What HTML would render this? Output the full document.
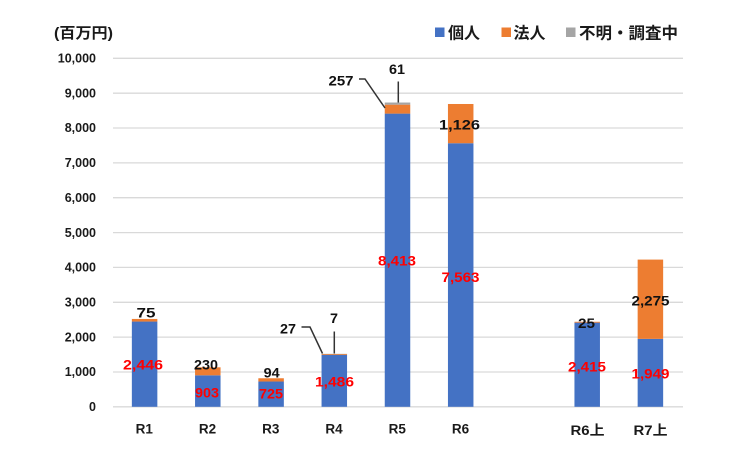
<!DOCTYPE html>
<html>
<head>
<meta charset="utf-8">
<style>
html,body{margin:0;padding:0;background:#fff;}
svg{display:block;}
text{font-family:"Liberation Sans","Noto Sans CJK JP",sans-serif;font-weight:bold;}
</style>
</head>
<body>
<svg width="740" height="450" viewBox="0 0 740 450" xmlns="http://www.w3.org/2000/svg">
<rect width="740" height="450" fill="#fff"/>
<g stroke="#d9d9d9" stroke-width="1.3">
<line x1="113" y1="58.3" x2="683" y2="58.3"/>
<line x1="113" y1="93.2" x2="683" y2="93.2"/>
<line x1="113" y1="128.0" x2="683" y2="128.0"/>
<line x1="113" y1="162.9" x2="683" y2="162.9"/>
<line x1="113" y1="197.7" x2="683" y2="197.7"/>
<line x1="113" y1="232.6" x2="683" y2="232.6"/>
<line x1="113" y1="267.4" x2="683" y2="267.4"/>
<line x1="113" y1="302.3" x2="683" y2="302.3"/>
<line x1="113" y1="337.1" x2="683" y2="337.1"/>
<line x1="113" y1="372.0" x2="683" y2="372.0"/>
<line x1="113" y1="406.8" x2="683" y2="406.8"/>
</g>
<g font-size="12.5" fill="#1a1a1a" text-anchor="end">
<text x="96" y="62.5">10,000</text>
<text x="96" y="97.4">9,000</text>
<text x="96" y="132.2">8,000</text>
<text x="96" y="167.1">7,000</text>
<text x="96" y="201.9">6,000</text>
<text x="96" y="236.8">5,000</text>
<text x="96" y="271.6">4,000</text>
<text x="96" y="306.5">3,000</text>
<text x="96" y="341.3">2,000</text>
<text x="96" y="376.2">1,000</text>
<text x="96" y="411">0</text>
</g>
<text x="54" y="38" font-size="15" fill="#1a1a1a" textLength="59" lengthAdjust="spacingAndGlyphs">(百万円)</text>
<rect x="435" y="27.5" width="9.5" height="9.5" fill="#4472C4"/>
<text x="448" y="38.5" font-size="16" fill="#1a1a1a">個人</text>
<rect x="501.5" y="27.5" width="9.5" height="9.5" fill="#ED7D31"/>
<text x="513.5" y="38.5" font-size="16" fill="#1a1a1a">法人</text>
<rect x="566" y="27.5" width="9.5" height="9.5" fill="#A5A5A5"/>
<text x="579" y="38.5" font-size="16" fill="#1a1a1a" textLength="99" lengthAdjust="spacingAndGlyphs">不明・調査中</text>
<g>
<rect x="131.85" y="321.56" width="25.5" height="85.24" fill="#4472C4"/>
<rect x="131.85" y="318.94" width="25.5" height="2.62" fill="#ED7D31"/>
<rect x="195.05" y="375.33" width="25.5" height="31.47" fill="#4472C4"/>
<rect x="195.05" y="367.31" width="25.5" height="8.02" fill="#ED7D31"/>
<rect x="258.35" y="381.53" width="25.5" height="25.27" fill="#4472C4"/>
<rect x="258.35" y="378.26" width="25.5" height="3.27" fill="#ED7D31"/>
<rect x="321.55" y="355.01" width="25.5" height="51.79" fill="#4472C4"/>
<rect x="321.55" y="354.07" width="25.5" height="0.94" fill="#ED7D31"/>
<rect x="321.55" y="353.83" width="25.5" height="0.4" fill="#A5A5A5"/>
<rect x="384.75" y="113.61" width="25.5" height="293.19" fill="#4472C4"/>
<rect x="384.75" y="104.65" width="25.5" height="8.96" fill="#ED7D31"/>
<rect x="384.75" y="102.52" width="25.5" height="2.13" fill="#A5A5A5"/>
<rect x="447.95" y="143.23" width="25.5" height="263.57" fill="#4472C4"/>
<rect x="447.95" y="103.99" width="25.5" height="39.24" fill="#ED7D31"/>
<rect x="574.45" y="322.64" width="25.5" height="84.16" fill="#4472C4"/>
<rect x="574.45" y="321.77" width="25.5" height="0.87" fill="#ED7D31"/>
<rect x="637.65" y="338.88" width="25.5" height="67.92" fill="#4472C4"/>
<rect x="637.65" y="259.59" width="25.5" height="79.29" fill="#ED7D31"/>
</g>
<g stroke="#333" stroke-width="1.5" fill="none">
<polyline points="301.5,327 310,327 322.5,353.5"/>
<line x1="334.3" y1="331.5" x2="334.3" y2="353.5"/>
<polyline points="359,79 365,79 385,108"/>
<line x1="398.3" y1="81.5" x2="398.3" y2="102.5"/>
</g>
<g font-size="14" fill="#111" text-anchor="middle">
<text x="146" y="317.5" textLength="19" lengthAdjust="spacingAndGlyphs">75</text>
<text x="206" y="369.5" textLength="24" lengthAdjust="spacingAndGlyphs">230</text>
<text x="271.7" y="377.5" textLength="16" lengthAdjust="spacingAndGlyphs">94</text>
<text x="288" y="333.5" textLength="16" lengthAdjust="spacingAndGlyphs">27</text>
<text x="334" y="323" textLength="8" lengthAdjust="spacingAndGlyphs">7</text>
<text x="341" y="85.5" textLength="25" lengthAdjust="spacingAndGlyphs">257</text>
<text x="397" y="73.8" textLength="16" lengthAdjust="spacingAndGlyphs">61</text>
<text x="459.5" y="129.5" textLength="41" lengthAdjust="spacingAndGlyphs">1,126</text>
<text x="586.5" y="328" textLength="17" lengthAdjust="spacingAndGlyphs">25</text>
<text x="650.5" y="305.5" textLength="38" lengthAdjust="spacingAndGlyphs">2,275</text>
</g>
<g font-size="14" fill="#FF0000" text-anchor="middle">
<text x="143" y="369.5" textLength="40" lengthAdjust="spacingAndGlyphs">2,446</text>
<text x="207" y="397.5" textLength="24" lengthAdjust="spacingAndGlyphs">903</text>
<text x="271" y="398.5" textLength="24" lengthAdjust="spacingAndGlyphs">725</text>
<text x="334.5" y="386.5" textLength="39" lengthAdjust="spacingAndGlyphs">1,486</text>
<text x="397" y="265.5" textLength="38" lengthAdjust="spacingAndGlyphs">8,413</text>
<text x="460.5" y="282" textLength="38" lengthAdjust="spacingAndGlyphs">7,563</text>
<text x="587" y="371.5" textLength="38" lengthAdjust="spacingAndGlyphs">2,415</text>
<text x="650.5" y="378.5" textLength="38" lengthAdjust="spacingAndGlyphs">1,949</text>
</g>
<g font-size="13.5" fill="#1a1a1a" text-anchor="middle">
<text x="144.3" y="433.3">R1</text>
<text x="207.5" y="433.3">R2</text>
<text x="270.8" y="433.3">R3</text>
<text x="334" y="433.3">R4</text>
<text x="397.3" y="433.3">R5</text>
<text x="460.5" y="433.3">R6</text>
<text x="587.5" y="435" textLength="34" lengthAdjust="spacingAndGlyphs">R6上</text>
<text x="650.5" y="435" textLength="34" lengthAdjust="spacingAndGlyphs">R7上</text>
</g>
</svg>
</body>
</html>
